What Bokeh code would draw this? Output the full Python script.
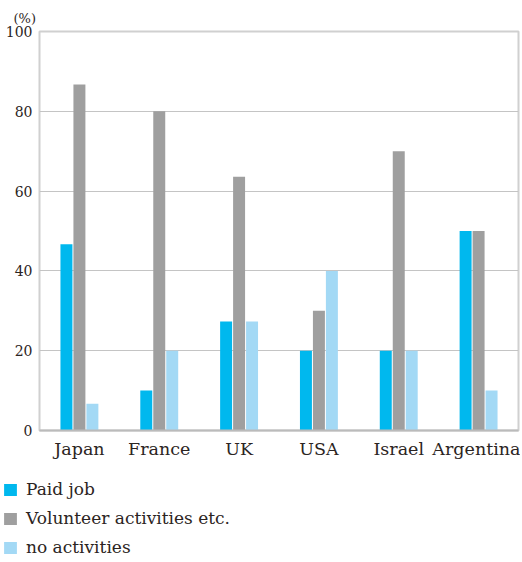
from bokeh.plotting import figure
from bokeh.models import FactorRange, Range1d, Legend, LegendItem, ColumnDataSource, FixedTicker
from bokeh.layouts import column
from bokeh.transform import dodge
from bokeh.embed import file_html
from bokeh.resources import INLINE

countries = ["Japan", "France", "UK", "USA", "Israel", "Argentina"]
paid_job = [46.7, 10, 27.3, 20, 20, 50]
volunteer = [86.7, 80, 63.6, 30, 70, 50]
no_activities = [6.7, 20, 27.3, 40, 20, 10]
y_ticks = [0, 20, 40, 60, 80, 100]

series_names = ["Paid job", "Volunteer activities etc.", "no activities"]
colors = ["#00b8ee", "#9f9f9f", "#a3d9f5"]

src = ColumnDataSource(dict(country=countries, paid=paid_job, vol=volunteer, none=no_activities))

FONT = "DejaVu Serif"
TXT = "#2b2422"

p = figure(x_range=FactorRange(*countries, range_padding=0), y_range=Range1d(0, 100),
           width=520, height=465, output_backend="svg", toolbar_location=None,
           min_border_left=39, min_border_right=2, min_border_top=31, min_border_bottom=35)
p.frame_align = False

p.vbar(x=dodge("country", -0.1625, range=p.x_range), top="paid", width=0.15, source=src,
       fill_color=colors[0], line_color=None)
p.vbar(x=dodge("country", 0.0, range=p.x_range), top="vol", width=0.15, source=src,
       fill_color=colors[1], line_color=None)
p.vbar(x=dodge("country", 0.1625, range=p.x_range), top="none", width=0.15, source=src,
       fill_color=colors[2], line_color=None)

p.outline_line_color = "#d0d0d0"
p.outline_line_width = 2
p.xgrid.grid_line_color = None
p.ygrid.grid_line_color = "#c4c4c4"
p.ygrid.grid_line_width = 1
p.yaxis.ticker = FixedTicker(ticks=y_ticks)

for ax in (p.xaxis, p.yaxis):
    ax.major_tick_line_color = None
    ax.minor_tick_line_color = None
    ax.major_tick_out = 0
    ax.major_tick_in = 0
    ax.axis_line_color = None
    ax.major_label_text_font = FONT
    ax.major_label_text_color = TXT
p.xaxis.axis_line_color = "#bbbbbb"
p.xaxis.axis_line_width = 2
p.yaxis.major_label_text_font_size = "14px"
p.yaxis.major_label_standoff = 7
p.xaxis.major_label_text_font_size = "17.5px"
p.xaxis.major_label_standoff = 8

p.title.text = "(%)"
p.title.text_font = FONT
p.title.text_font_size = "13px"
p.title.text_font_style = "normal"
p.title.text_color = TXT
p.title.align = "left"
p.title.offset = -26
p.title.standoff = 12

# legend figure
lf = figure(width=520, height=95, output_backend="svg", toolbar_location=None,
            x_range=Range1d(0, 1), y_range=Range1d(0, 1),
            x_axis_location=None, y_axis_location=None,
            min_border_left=0, min_border_right=0, min_border_top=0, min_border_bottom=0)
lf.frame_align = False
lf.grid.visible = False
lf.outline_line_color = None
items = []
for name, c in zip(series_names, colors):
    hidden = ColumnDataSource(dict(x=[-5.0], top=[-5.0]))
    r = lf.vbar(x="x", top="top", width=0.1, source=hidden, fill_color=c, line_color=None)
    items.append(LegendItem(label=name, renderers=[r]))

legend = Legend(items=items, location=(2, 3), orientation="vertical",
                glyph_width=16, glyph_height=15, label_height=18, spacing=9,
                label_standoff=8, padding=0, margin=0,
                border_line_color=None, background_fill_alpha=0,
                label_text_font=FONT, label_text_font_size="17px", label_text_color=TXT)
lf.add_layout(legend, "center")

layout = column(p, lf, spacing=0)
open("out.html", "w").write(file_html(layout, INLINE))
